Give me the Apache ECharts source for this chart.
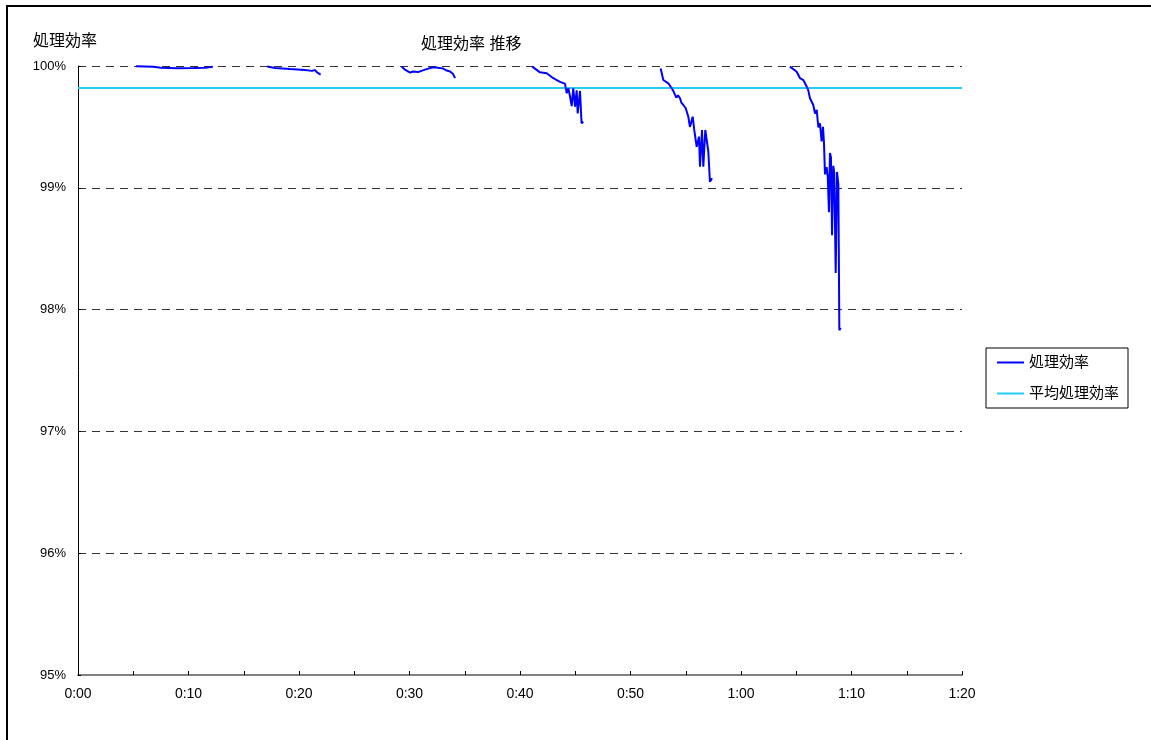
<!DOCTYPE html>
<html>
<head>
<meta charset="utf-8">
<script src="https://cdn.jsdelivr.net/npm/echarts@6/dist/echarts.min.js"></script>
<style>
html,body{margin:0;padding:0;background:#fff;}
#chart{width:1151px;height:740px;}
</style>
</head>
<body>
<div id="chart"></div>
<script>
// elapsed time (minutes) and processing efficiency (%) for each run
const run1Min = [5.25, 6.8, 7.5, 9.0, 10.5, 11.5, 12.2];
const run1Eff = [99.998, 99.993, 99.985, 99.982, 99.983, 99.985, 99.993];

const run2Min = [17.13, 17.83, 19.19, 20.54, 21.18, 21.45, 21.63, 21.76, 21.96];
const run2Eff = [99.995, 99.984, 99.975, 99.967, 99.96, 99.967, 99.947, 99.96, 99.93];

const run3Min = [29.29, 29.59, 30.05, 30.32, 30.77, 31.4, 32.13, 32.58, 33.03, 33.3, 33.48, 33.67, 33.85, 33.94, 34.12];
const run3Eff = [99.995, 99.97, 99.945, 99.955, 99.95, 99.97, 99.99, 99.985, 99.98, 99.965, 99.97, 99.955, 99.96, 99.935, 99.90];

const run4Min = [41.11, 41.81, 42.42, 43.01, 43.62, 44.07, 44.23, 44.37, 44.52, 44.68, 44.82, 44.98, 45.13, 45.22, 45.43, 45.57, 45.73];
const run4Eff = [99.995, 99.948, 99.94, 99.90, 99.87, 99.855, 99.776, 99.817, 99.754, 99.67, 99.817, 99.666, 99.80, 99.61, 99.795, 99.53, 99.543];

const run5Min = [52.73, 52.97, 53.42, 53.73, 53.9, 54.03, 54.15, 54.3, 54.48, 54.6, 54.78, 55.0, 55.23, 55.38, 55.63, 55.77, 55.99, 56.2, 56.29, 56.47, 56.59, 56.77, 57.04, 57.19, 57.38];
const run5Eff = [99.98, 99.885, 99.858, 99.817, 99.79, 99.776, 99.74, 99.76, 99.735, 99.70, 99.68, 99.653, 99.584, 99.50, 99.584, 99.475, 99.337, 99.42, 99.173, 99.475, 99.173, 99.475, 99.30, 99.05, 99.078];

const run6Min = [64.43, 65.04, 65.34, 65.64, 65.95, 66.09, 66.24, 66.4, 66.54, 66.7, 66.85, 67.0, 67.15, 67.29, 67.42, 67.51, 67.6, 67.75, 67.85, 67.96, 68.05, 68.14, 68.24, 68.35, 68.44, 68.57, 68.69, 68.81, 68.9, 69.02];
const run6Eff = [99.995, 99.953, 99.90, 99.885, 99.83, 99.80, 99.735, 99.72, 99.68, 99.61, 99.64, 99.495, 99.53, 99.38, 99.50, 99.37, 99.11, 99.17, 99.09, 98.80, 99.285, 99.25, 98.61, 99.18, 99.12, 98.30, 99.13, 99.03, 97.83, 97.85];

const averageEff = 99.82;
const xTickLabels = ['0:00', '0:10', '0:20', '0:30', '0:40', '0:50', '1:00', '1:10', '1:20'];
const yTickLabels = ['95%', '96%', '97%', '98%', '99%', '100%'];

const runs = [[run1Min, run1Eff], [run2Min, run2Eff], [run3Min, run3Eff], [run4Min, run4Eff], [run5Min, run5Eff], [run6Min, run6Eff]];
const effData = [];
runs.forEach(function (r, i) {
  if (i > 0) effData.push([r[0][0] - 0.01, '-']);
  r[0].forEach(function (m, j) { effData.push([m, r[1][j]]); });
});

const FONT = '"Liberation Sans", Arial, "Noto Sans CJK JP", sans-serif';
const chart = echarts.init(document.getElementById('chart'), null, {renderer: 'canvas'});
chart.setOption({
  animation: false,
  backgroundColor: '#fff',
  textStyle: {fontFamily: FONT, color: '#000'},
  title: {
    text: '処理効率 推移',
    left: 416, top: 32,
    textStyle: {fontFamily: FONT, fontSize: 16, fontWeight: 'normal', color: '#000'}
  },
  graphic: [{
    type: 'rect', silent: true, z: -1,
    shape: {x: 7, y: 6, width: 1300, height: 900},
    style: {fill: 'none', stroke: '#000', lineWidth: 2}
  }],
  legend: {
    orient: 'vertical', left: 986, top: 348,
    padding: [7, 9, 7, 10],
    itemGap: 16, itemWidth: 27, itemHeight: 14,
    borderColor: '#000', borderWidth: 1,
    itemStyle: {opacity: 0},
    textStyle: {fontFamily: FONT, fontSize: 15, color: '#000'},
    data: ['処理効率', '平均処理効率']
  },
  grid: {left: 78, top: 66, right: 189, bottom: 65, containLabel: false},
  xAxis: {
    type: 'value', min: 0, max: 80, interval: 5,
    axisLine: {lineStyle: {color: '#808080', width: 2}},
    axisTick: {inside: true, length: 4, lineStyle: {color: '#000'}},
    axisLabel: {
      color: '#000', fontSize: 14, margin: 12, fontFamily: FONT,
      formatter: function (v) { return v % 10 === 0 ? xTickLabels[v / 10] : ''; }
    },
    splitLine: {show: false}
  },
  yAxis: {
    type: 'value', min: 95, max: 100, interval: 1,
    name: '処理効率',
    nameLocation: 'end', nameGap: 16,
    nameTextStyle: {fontFamily: FONT, fontSize: 16, color: '#000', align: 'left', padding: [0, 0, 0, -45]},
    axisLine: {show: true, lineStyle: {color: '#000', width: 1}},
    axisTick: {show: true, inside: true, length: 3, lineStyle: {color: '#000'}},
    axisLabel: {
      color: '#000', fontSize: 13, margin: 12, fontFamily: FONT,
      formatter: function (v) { return yTickLabels[Math.round(v - 95)]; }
    },
    splitLine: {show: true, lineStyle: {color: '#333', type: [8, 6], width: 1}}
  },
  series: [
    {
      name: '処理効率', type: 'line', data: effData,
      symbol: 'none', connectNulls: false,
      lineStyle: {color: '#0000FF', width: 2},
      itemStyle: {color: '#0000FF'}, z: 3
    },
    {
      name: '平均処理効率', type: 'line',
      data: [[0, averageEff], [80, averageEff]],
      symbol: 'none',
      lineStyle: {color: '#22CCF2', width: 2},
      itemStyle: {color: '#22CCF2'}, z: 2
    }
  ]
});
</script>
</body>
</html>
